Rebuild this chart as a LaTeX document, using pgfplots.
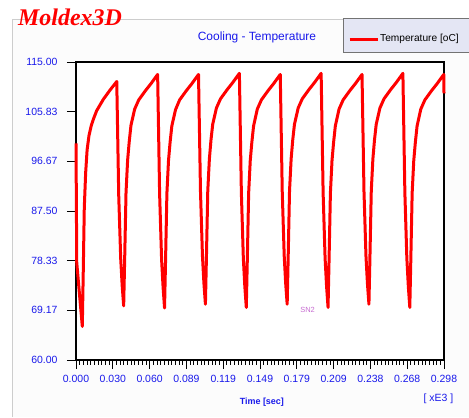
\documentclass[border=0pt]{standalone}
\usepackage{pgfplots}
\pgfplotsset{compat=1.18}
\usepackage{fontspec}
\setmainfont{Liberation Sans}
\newfontfamily\logofont{Liberation Serif}
\definecolor{tickblue}{RGB}{25,25,235}
\definecolor{panelgray}{RGB}{205,205,205}
\definecolor{legbg}{RGB}{228,230,244}
\definecolor{sncol}{RGB}{200,110,210}
\begin{document}
\begin{tikzpicture}[x=1bp,y=1bp]
\useasboundingbox (0,0) rectangle (469,417);
\fill[white] (0,0) rectangle (469,417);
\fill[black!1] (12,0) rectangle (469,397);
\draw[panelgray, line width=1bp] (12,0) -- (12,397) -- (343,397);
\fill[legbg] (343,365) rectangle (470,398);
\draw[black!55, line width=1bp] (470,365) -- (343,365) -- (343,398) -- (470,398);
\node[anchor=center, text=red, font=\logofont\bfseries\itshape\fontsize{24}{26}\selectfont, inner sep=0] at (70,400) {Moldex3D};
\begin{axis}[
  at={(76bp,57bp)}, anchor=south west,
  scale only axis, width=368bp, height=298bp,
  xmin=0, xmax=0.298, ymin=60, ymax=115,
  axis background/.style={fill=white},
  axis line style={line width=1.8bp, black},
  tick align=outside, tick pos=left,
  major tick length=9bp, minor tick length=4.5bp,
  every tick/.style={black, line width=0.8bp},
  xtick={0,0.0298,0.0596,0.0894,0.1192,0.149,0.1788,0.2086,0.2384,0.2682,0.298},
  xticklabels={0.000,0.030,0.060,0.089,0.119,0.149,0.179,0.209,0.238,0.268,0.298},
  ytick={60,69.16667,78.33333,87.5,96.66667,105.83333,115},
  yticklabels={60.00,69.17,78.33,87.50,96.67,105.83,115.00},
  minor x tick num=9, minor y tick num=9,
  ticklabel style={font=\fontsize{10.5}{12}\selectfont, text=tickblue},
  yticklabel style={xshift=-6bp},
  xticklabel style={yshift=-3bp},
  title={Cooling - Temperature},
  title style={at={(axis description cs:0.4918,1.0638)}, anchor=center, font=\fontsize{12}{14}\selectfont, text=tickblue},
  xlabel={Time [sec]},
  xlabel style={at={(axis description cs:0.505,-0.141)}, anchor=center, font=\bfseries\fontsize{9}{10}\selectfont, text=tickblue},
  legend style={at={(axis description cs:0.739,1.077)}, anchor=west, draw=none, fill=none, inner sep=0pt,
    font=\fontsize{10.2}{12}\selectfont, nodes={inner sep=1bp}},
  legend image code/.code={\draw[#1, line width=3bp] (0bp,0bp) -- (28bp,0bp);},
  clip=false,
]
\addplot[red, line width=3bp, line join=round] coordinates {
(0.0000,100.0) (0.0006,78.0) (0.0028,72.2) (0.0051,66.2)
(0.0059,76.6) (0.0067,88.0) (0.0078,94.5) (0.0090,98.8) (0.0105,101.4) (0.0123,103.2) (0.0140,104.4) (0.0167,106.0) (0.0221,108.1) (0.0275,109.8) (0.0330,111.4)
(0.0346,90.3) (0.0362,78.7) (0.0374,73.7) (0.0386,70.0)
(0.0394,78.5) (0.0405,90.9) (0.0418,96.9) (0.0431,100.3) (0.0445,103.3) (0.0475,106.3) (0.0508,108.0) (0.0562,109.7) (0.0607,111.0) (0.0661,112.7)
(0.0677,90.7) (0.0693,78.6) (0.0705,73.5) (0.0717,69.6)
(0.0725,78.2) (0.0736,90.7) (0.0749,96.8) (0.0762,100.2) (0.0776,103.2) (0.0806,106.2) (0.0839,108.0) (0.0893,109.7) (0.0938,111.0) (0.0992,112.7)
(0.1008,91.1) (0.1024,79.2) (0.1036,74.1) (0.1048,70.3)
(0.1056,78.8) (0.1067,91.2) (0.1080,97.1) (0.1093,100.6) (0.1107,103.5) (0.1137,106.5) (0.1170,108.2) (0.1224,109.9) (0.1269,111.2) (0.1323,112.9)
(0.1339,90.9) (0.1355,78.8) (0.1367,73.6) (0.1379,69.7)
(0.1387,78.3) (0.1398,90.8) (0.1411,96.8) (0.1424,100.2) (0.1438,103.2) (0.1468,106.3) (0.1501,108.0) (0.1555,109.7) (0.1600,111.0) (0.1654,112.7)
(0.1670,91.1) (0.1686,79.2) (0.1698,74.1) (0.1710,70.3)
(0.1718,78.8) (0.1729,91.2) (0.1742,97.1) (0.1755,100.6) (0.1769,103.5) (0.1799,106.5) (0.1832,108.2) (0.1886,109.9) (0.1931,111.2) (0.1985,112.9)
(0.2001,90.9) (0.2017,78.8) (0.2029,73.6) (0.2041,69.7)
(0.2049,78.3) (0.2060,90.8) (0.2073,96.8) (0.2086,100.2) (0.2100,103.2) (0.2130,106.3) (0.2163,108.0) (0.2217,109.7) (0.2262,111.0) (0.2316,112.7)
(0.2332,91.1) (0.2348,79.2) (0.2360,74.1) (0.2372,70.3)
(0.2380,78.8) (0.2391,91.2) (0.2404,97.1) (0.2417,100.6) (0.2431,103.5) (0.2461,106.5) (0.2494,108.2) (0.2548,109.9) (0.2593,111.2) (0.2647,112.9)
(0.2663,90.9) (0.2679,78.8) (0.2691,73.6) (0.2703,69.7)
(0.2711,78.3) (0.2722,90.8) (0.2735,96.8) (0.2748,100.2) (0.2762,103.2) (0.2792,106.3) (0.2825,108.0) (0.2879,109.7) (0.2924,111.0) (0.2978,112.7)
(0.2980,109.2)
};
\addlegendentry{Temperature [oC]}
\node[anchor=center, text=tickblue, font=\fontsize{10.5}{12}\selectfont] at (axis description cs:0.985,-0.129) {[ xE3 ]};
\node[anchor=center, text=sncol, font=\fontsize{7.5}{9}\selectfont, inner sep=0] at (axis cs:0.1875,69.2) {SN2};
\end{axis}
\end{tikzpicture}
\end{document}
